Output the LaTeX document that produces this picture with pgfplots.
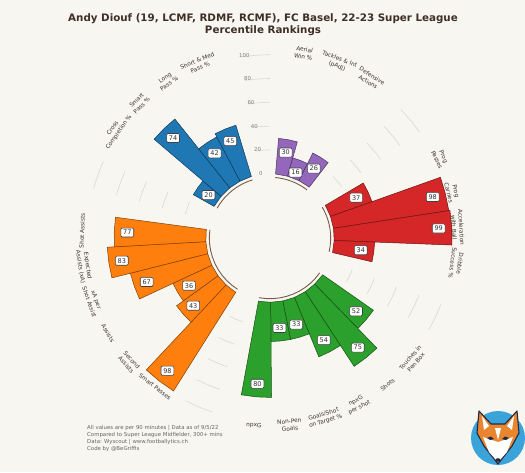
\documentclass[border=0pt]{standalone}
\usepackage{pgfplots}
\pgfplotsset{compat=1.18}
\usepgfplotslibrary{polar}
\usepackage{fontspec}
\setmainfont{DejaVu Sans}
\definecolor{bg}{HTML}{F8F6F1}
\definecolor{cblue}{HTML}{1F77B4}
\definecolor{cpurple}{HTML}{9467BD}
\definecolor{cred}{HTML}{D62728}
\definecolor{cgreen}{HTML}{2CA02C}
\definecolor{corange}{HTML}{FF7F0E}
\definecolor{ttl}{HTML}{3E3028}
\definecolor{lbl}{HTML}{3A332E}
\definecolor{ringc}{HTML}{7A5C45}
\definecolor{gridc}{HTML}{DDDAD4}
\definecolor{foxblue}{HTML}{3AA3DA}
\definecolor{foxorange}{HTML}{E9852F}
\definecolor{foxnavy}{HTML}{1E2B45}

\tikzset{
  valbox/.style={draw=black!75, fill=white, rounded corners=1.2pt, line width=0.6pt,
    inner xsep=2.3pt, inner ysep=2.1pt, font=\fontsize{6.5}{7}\selectfont, text=black!80, anchor=center},
  catlbl/.style={font=\fontsize{5.8}{7.4}\selectfont, text=lbl, align=center, anchor=center, inner sep=0pt},
  ticklbl/.style={font=\fontsize{5.4}{6}\selectfont, text=black!50, anchor=center, inner sep=0pt},
}

% one polar bar: angle, value (0-100), colour
\newcommand\polbar[3]{%
  \pgfmathsetmacro\aA{#1-5.4545}%
  \pgfmathsetmacro\aB{#1+5.4545}%
  \pgfmathsetmacro\rr{54+#2}%
  \pgfmathsetmacro\rl{43+#2}%
  \edef\doit{\noexpand\addplot[fill=#3, draw=#3!50!black, line width=0.5pt] coordinates {(\aA,54) (\aA,\rr) (#1,\rr) (\aB,\rr) (\aB,54)} -- cycle;
  \noexpand\addplot[draw=none, mark=none, point meta=explicit symbolic, nodes near coords, nodes near coords style={valbox}] coordinates {(#1,\rl) [#2]};}%
  \doit}

% arc from angle #1 to #2 at radius #3 with style #4
\newcommand\arcpts[4]{%
  \gdef\pts{}%
  \foreach \t in {0,...,10}{\pgfmathsetmacro\aa{#1+(#2-#1)*\t/10}\xdef\pts{\pts (\aa,#3)}}%
  \edef\doit{\noexpand\addplot[#4] coordinates {\pts};}\doit}

\newcommand\gaparcs[1]{%
  \pgfmathsetmacro\ga{#1-1.5-4.5}\pgfmathsetmacro\gb{#1-1.5+4.5}%
  \arcpts{\ga}{\gb}{74}{gridc, line width=0.65pt}%
  \arcpts{\ga}{\gb}{94}{gridc, line width=0.65pt}%
  \arcpts{\ga}{\gb}{114}{gridc, line width=0.65pt}%
  \arcpts{\ga}{\gb}{134}{gridc, line width=0.65pt}%
  \arcpts{\ga}{\gb}{154}{gridc, line width=0.65pt}}

\begin{document}
\begin{tikzpicture}
\fill[bg] (0,0) rectangle (525pt,472pt);
\useasboundingbox (0,0) rectangle (525pt,472pt);

\begin{polaraxis}[
  hide axis, grid=none, xtick=\empty, ytick=\empty,
  scale only axis, width=392.7pt, height=392.7pt,
  xmin=0, xmax=360, ymin=0, ymax=165,
  clip=false, at={(270pt,234pt)}, anchor=center,
]
% grid arcs in the gaps between groups
\gaparcs{41.4}
\gaparcs{-24.0}
\gaparcs{-111.3}
\gaparcs{161.4}
\gaparcs{96.0}

% inner rings of each group
\arcpts{85.05}{52.35}{51}{ringc, line width=0.9pt}
\arcpts{30.5}{-13.1}{51}{ringc, line width=0.9pt}
\arcpts{-35.0}{-100.4}{51}{ringc, line width=0.9pt}
\arcpts{237.75}{172.35}{51}{ringc, line width=0.9pt}
\arcpts{150.5}{106.85}{51}{ringc, line width=0.9pt}

% radial tick labels
\node[ticklbl] at (axis cs:98,55) {0};
\node[ticklbl] at (axis cs:98,75) {20};
\node[ticklbl] at (axis cs:98,95) {40};
\node[ticklbl] at (axis cs:98,115) {60};
\node[ticklbl] at (axis cs:98,135) {80};
\node[ticklbl] at (axis cs:98,155) {100};

% Defending (purple)
\polbar{79.6}{30}{cpurple}
\polbar{68.7}{16}{cpurple}
\polbar{57.8}{26}{cpurple}
% Progression (red)
\polbar{25.06}{37}{cred}
\polbar{14.15}{98}{cred}
\polbar{3.24}{99}{cred}
\polbar{-7.67}{34}{cred}
% Shooting (green)
\polbar{-40.4}{52}{cgreen}
\polbar{-51.3}{75}{cgreen}
\polbar{-62.2}{54}{cgreen}
\polbar{-73.1}{33}{cgreen}
\polbar{-84.0}{33}{cgreen}
\polbar{-94.9}{80}{cgreen}
% Creation (orange)
\polbar{232.3}{98}{corange}
\polbar{221.4}{43}{corange}
\polbar{210.5}{36}{corange}
\polbar{199.6}{67}{corange}
\polbar{188.7}{83}{corange}
\polbar{177.8}{77}{corange}
% Passing (blue)
\polbar{145.05}{20}{cblue}
\polbar{134.1}{74}{cblue}
\polbar{123.2}{42}{cblue}
\polbar{112.3}{45}{cblue}

% category labels
\node[catlbl, rotate=-10.4] at (axis cs:79.6,158) {Aerial\\Win \%};
\node[catlbl, rotate=-21.3] at (axis cs:68.7,158) {Tackles \& Int\\(pAdj)};
\node[catlbl, rotate=-32.2] at (axis cs:57.8,158) {Defensive\\Actions};
\node[catlbl, rotate=-64.9] at (axis cs:25.06,158) {Prog\\Passes};
\node[catlbl, rotate=-75.85] at (axis cs:14.15,158) {Prog\\Carries};
\node[catlbl, rotate=-86.76] at (axis cs:3.24,158) {Acceleration\\with Ball};
\node[catlbl, rotate=-97.67] at (axis cs:-7.67,158) {Dribble\\Success \%};
\node[catlbl, rotate=49.6] at (axis cs:-40.4,158) {Touches in\\Pen Box};
\node[catlbl, rotate=38.7] at (axis cs:-51.3,158) {Shots};
\node[catlbl, rotate=27.8] at (axis cs:-62.2,158) {npxG\\per shot};
\node[catlbl, rotate=16.9] at (axis cs:-73.1,158) {Goals/Shot\\on Target \%};
\node[catlbl, rotate=6.0] at (axis cs:-84.0,158) {Non-Pen\\Goals};
\node[catlbl, rotate=-4.9] at (axis cs:-94.9,158) {npxG};
\node[catlbl, rotate=-37.7] at (axis cs:232.3,158) {Smart Passes};
\node[catlbl, rotate=-48.6] at (axis cs:221.4,158) {Second\\Assists};
\node[catlbl, rotate=-59.5] at (axis cs:210.5,158) {Assists};
\node[catlbl, rotate=-70.4] at (axis cs:199.6,158) {xA per\\Shot Assist};
\node[catlbl, rotate=-81.3] at (axis cs:188.7,158) {Expected\\Assists (xA)};
\node[catlbl, rotate=87.8] at (axis cs:177.8,158) {Shot Assists};
\node[catlbl, rotate=55.05] at (axis cs:145.05,158) {Cross\\Completion \%};
\node[catlbl, rotate=44.1] at (axis cs:134.1,158) {Smart\\Pass \%};
\node[catlbl, rotate=33.2] at (axis cs:123.2,158) {Long\\Pass \%};
\node[catlbl, rotate=22.3] at (axis cs:112.3,158) {Short \& Med\\Pass \%};
\end{polaraxis}

% title
\node[font=\bfseries\fontsize{10.3}{12}\selectfont, text=ttl] at (263pt,453.5pt) {Andy Diouf (19, LCMF, RDMF, RCMF), FC Basel, 22-23 Super League};
\node[font=\bfseries\fontsize{10.3}{12}\selectfont, text=ttl] at (263pt,441.5pt) {Percentile Rankings};

% footer
\node[anchor=north west, align=left, inner sep=0pt, font=\fontsize{5.4}{7}\selectfont, text=black!60] at (87pt,47pt)
  {All values are per 90 minutes | Data as of 9/5/22\\Compared to Super League Midfielder, 300+ mins\\Data: Wyscout | www.footballytics.ch\\Code by @BeGriffis};

% logo
\fill[foxblue] (498pt,34pt) circle (27pt);
\filldraw[fill=foxorange, draw=foxnavy, line width=1.1pt, line join=round]
  (479pt,61pt) -- (491pt,48pt) -- (505pt,48pt) -- (517pt,61pt) -- (519pt,39pt) -- (512pt,26pt) -- (498pt,8pt) -- (484pt,26pt) -- (477pt,39pt) -- cycle;
\fill[white] (483pt,35pt) -- (498pt,30pt) -- (513pt,35pt) -- (507pt,20pt) -- (498pt,10pt) -- (489pt,20pt) -- cycle;
\fill[white] (482pt,56pt) -- (489pt,46pt) -- (484pt,42pt) -- cycle;
\fill[white] (514pt,56pt) -- (507pt,46pt) -- (512pt,42pt) -- cycle;
\fill[white] (495pt,44pt) -- (498pt,32pt) -- (501pt,44pt) -- cycle;
\fill[foxnavy] (487pt,34pt) -- (491pt,35.5pt) -- (494pt,33pt) -- (490pt,32pt) -- cycle;
\fill[foxnavy] (509pt,34pt) -- (505pt,35.5pt) -- (502pt,33pt) -- (506pt,32pt) -- cycle;
\fill[foxnavy] (498pt,12pt) ellipse (2.5pt and 1.8pt);
\end{tikzpicture}
\end{document}
